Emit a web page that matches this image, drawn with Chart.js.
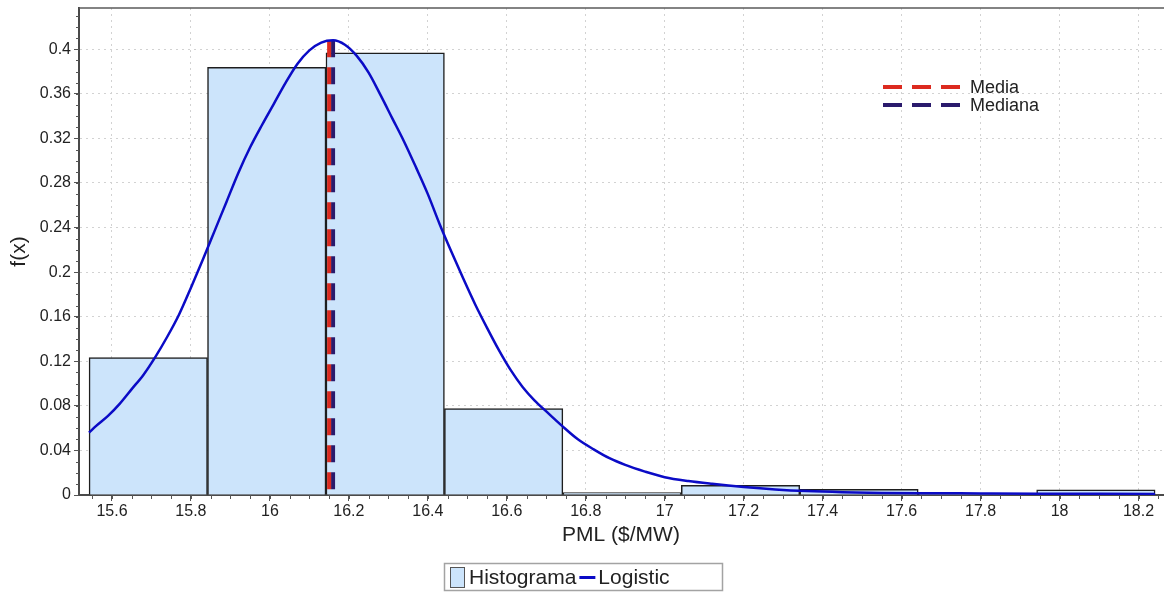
<!DOCTYPE html>
<html>
<head>
<meta charset="utf-8">
<script src="https://cdn.jsdelivr.net/npm/chart.js@4.4.1/dist/chart.umd.min.js"></script>
<style>
  html, body { margin: 0; padding: 0; background: #fff; }
  #wrap { width: 1164px; height: 592px; position: relative; }
</style>
</head>
<body>
<div id="wrap"><canvas id="c" width="1164" height="592"></canvas></div>
<script>
// Histogram: bin edges and relative frequency of each bin
const binEdges = [15.542, 15.842, 16.142, 16.442, 16.742, 17.042, 17.342, 17.642, 17.942, 18.242];
const relFreq  = [0.1234, 0.3838, 0.3968, 0.0775, 0.0022, 0.0087, 0.0050, 0.0015, 0.0047];

// Fitted Logistic density (sampled)
const curveX = [15.542, 15.56, 15.59, 15.62, 15.65, 15.68, 15.71, 15.74, 15.77, 15.80,
                15.83, 15.86, 15.89, 15.92, 15.95, 15.98, 16.01, 16.04, 16.07, 16.10,
                16.13, 16.16, 16.19, 16.22, 16.25, 16.28, 16.31, 16.34, 16.37, 16.40,
                16.43, 16.46, 16.49, 16.52, 16.55, 16.58, 16.61, 16.64, 16.67, 16.70,
                16.74, 16.78, 16.82, 16.86, 16.90, 16.95, 17.00, 17.06, 17.12, 17.20,
                17.28, 17.36, 17.45, 17.55, 17.67, 17.80, 17.95, 18.10, 18.242];
const curveY = [0.056, 0.062, 0.071, 0.082, 0.095, 0.108, 0.124, 0.142, 0.162, 0.186,
                0.211, 0.237, 0.263, 0.289, 0.312, 0.332, 0.351, 0.370, 0.387, 0.399,
                0.406, 0.408, 0.404, 0.394, 0.379, 0.359, 0.338, 0.317, 0.294, 0.270,
                0.243, 0.218, 0.194, 0.171, 0.150, 0.130, 0.112, 0.097, 0.085, 0.075,
                0.062, 0.050, 0.041, 0.033, 0.027, 0.021, 0.016, 0.0125, 0.010, 0.0072,
                0.0050, 0.0035, 0.0025, 0.0019, 0.0016, 0.0014, 0.0012, 0.0011, 0.0010];

// Mean and median of the sample
const meanValue = 16.150;
const medianValue = 16.160;
const markerTop = 0.408;

// Axis ticks and ranges
const xTicks = [15.6, 15.8, 16, 16.2, 16.4, 16.6, 16.8, 17, 17.2, 17.4, 17.6, 17.8, 18, 18.2];
const yTicks = [0, 0.04, 0.08, 0.12, 0.16, 0.2, 0.24, 0.28, 0.32, 0.36, 0.4];
const xRange = [15.5165, 18.262];
const yRange = [0, 0.437];

const FONT = "'Liberation Sans', Arial, Helvetica, sans-serif";
const TEXT = '#222222';
const AXIS = '#4a4a4a';
const GRID = '#d2d2d2';

Chart.defaults.font.family = FONT;
Chart.defaults.color = TEXT;

const fmt = v => String(+Number(v).toFixed(3));

const histData = relFreq.map((v, i) => ({ x: (binEdges[i] + binEdges[i + 1]) / 2, y: v }));
const curveData = curveX.map((x, i) => ({ x, y: curveY[i] }));

// Minor tick marks along both axes + frame line on top
const minorTicks = {
  id: 'minorTicks',
  afterDraw(chart) {
    const { ctx, chartArea } = chart;
    const xs = chart.scales.x, ys = chart.scales.y;
    ctx.save();
    ctx.strokeStyle = '#555';
    ctx.lineWidth = 1;
    // x minor ticks: four subdivisions per major interval
    const xStep = (xTicks[1] - xTicks[0]) / 4;
    for (let v = xTicks[0] - 4 * xStep; v <= xs.max + 1e-9; v += xStep) {
      if (v < xs.min) continue;
      const px = Math.round(xs.getPixelForValue(v)) + 0.5;
      ctx.beginPath();
      ctx.moveTo(px, chartArea.bottom);
      ctx.lineTo(px, chartArea.bottom + 4);
      ctx.stroke();
    }
    // y minor ticks
    const yStep = (yTicks[1] - yTicks[0]) / 4;
    for (let v = 0; v <= ys.max + 1e-9; v += yStep) {
      const py = Math.round(ys.getPixelForValue(v)) + 0.5;
      ctx.beginPath();
      ctx.moveTo(chartArea.left - 3, py);
      ctx.lineTo(chartArea.left, py);
      ctx.stroke();
    }
    // top frame line
    ctx.strokeStyle = '#5a5a5a';
    ctx.lineWidth = 1.5;
    ctx.beginPath();
    ctx.moveTo(chartArea.left, chartArea.top);
    ctx.lineTo(chart.width, chartArea.top);
    ctx.stroke();
    ctx.restore();
  }
};

// Legends: dashed marker legend inside the plot, boxed legend below
const legends = {
  id: 'legends',
  afterDraw(chart) {
    const { ctx } = chart;
    const ds = chart.data.datasets;
    const byLabel = l => ds.find(d => d.label === l);
    ctx.save();

    // marker legend
    const markers = [byLabel('Media'), byLabel('Mediana')];
    const rows = [87, 105];
    markers.forEach((d, i) => {
      ctx.strokeStyle = d.borderColor;
      ctx.lineWidth = 4;
      ctx.setLineDash([19, 10]);
      ctx.beginPath();
      ctx.moveTo(883, rows[i]);
      ctx.lineTo(960, rows[i]);
      ctx.stroke();
      ctx.setLineDash([]);
      ctx.fillStyle = TEXT;
      ctx.font = '18px ' + FONT;
      ctx.textBaseline = 'middle';
      ctx.textAlign = 'left';
      ctx.fillText(d.label, 970, rows[i] + 1);
    });

    // boxed legend
    const hist = byLabel('Histograma');
    const fit = byLabel('Logistic');
    ctx.strokeStyle = '#a3a3a3';
    ctx.lineWidth = 1.5;
    ctx.strokeRect(444.5, 563.5, 278, 27);
    ctx.fillStyle = hist.backgroundColor;
    ctx.fillRect(450.5, 567.5, 14, 20);
    ctx.strokeStyle = '#555';
    ctx.lineWidth = 1;
    ctx.strokeRect(450.5, 567.5, 14, 20);

    ctx.font = '21px ' + FONT;
    ctx.fillStyle = TEXT;
    ctx.textBaseline = 'middle';
    let x = 469;
    ctx.fillText(hist.label, x, 578);
    x += ctx.measureText(hist.label).width + 3;
    ctx.strokeStyle = fit.borderColor;
    ctx.lineWidth = 3;
    ctx.beginPath();
    ctx.moveTo(x, 577.5);
    ctx.lineTo(x + 16, 577.5);
    ctx.stroke();
    x += 19;
    ctx.fillText(fit.label, x, 578);
    ctx.restore();
  }
};

new Chart(document.getElementById('c'), {
  type: 'line',
  data: {
    datasets: [
      {
        type: 'line',
        label: 'Logistic',
        data: curveData,
        borderColor: '#0b0bc6',
        borderWidth: 2.5,
        pointRadius: 0,
        cubicInterpolationMode: 'monotone',
        fill: false,
        order: 0
      },
      {
        type: 'line',
        label: 'Media',
        data: [{ x: meanValue, y: markerTop }, { x: meanValue, y: 0 }],
        borderColor: '#dc2a1f',
        borderWidth: 4,
        borderDash: [17, 10],
        pointRadius: 0,
        fill: false,
        order: 1
      },
      {
        type: 'line',
        label: 'Mediana',
        data: [{ x: medianValue, y: markerTop }, { x: medianValue, y: 0 }],
        borderColor: '#2a1a6c',
        borderWidth: 4,
        borderDash: [17, 10],
        pointRadius: 0,
        fill: false,
        order: 1
      },
      {
        type: 'bar',
        label: 'Histograma',
        xAxisID: 'xBins',
        data: histData,
        backgroundColor: '#cce4fb',
        borderColor: '#1e1e1e',
        borderWidth: 1.5,
        barPercentage: 1,
        categoryPercentage: 1,
        grouped: false,
        order: 2
      }
    ]
  },
  options: {
    responsive: false,
    animation: false,
    devicePixelRatio: 1,
    layout: { padding: { top: 8, right: 1, left: 0, bottom: 0 } },
    plugins: {
      legend: { display: false },
      tooltip: { enabled: false }
    },
    scales: {
      x: {
        type: 'linear',
        min: xRange[0],
        max: xRange[1],
        offset: false,
        afterBuildTicks: s => { s.ticks = xTicks.map(v => ({ value: v })); },
        afterFit: s => { s.height = 97; s.paddingLeft = 0; s.paddingRight = 0; },
        ticks: { font: { size: 16 }, color: TEXT, padding: 1, maxRotation: 0, autoSkip: false, callback: fmt },
        grid: { color: GRID, lineWidth: 1, tickLength: 6, tickColor: '#555', tickWidth: 1, offset: false },
        border: { color: AXIS, width: 2, dash: [2, 4] },
        title: { display: true, text: 'PML ($/MW)', font: { size: 21 }, color: TEXT, padding: { top: 0, bottom: 44 } }
      },
      // bin axis for the histogram: same range, ticks on the bin edges, not drawn
      xBins: {
        type: 'linear',
        display: false,
        position: 'bottom',
        min: xRange[0],
        max: xRange[1],
        offset: false,
        afterBuildTicks: s => { s.ticks = binEdges.map(v => ({ value: v })); }
      },
      y: {
        type: 'linear',
        min: yRange[0],
        max: yRange[1],
        afterBuildTicks: s => { s.ticks = yTicks.map(v => ({ value: v })); },
        afterFit: s => { s.width = 79; s.paddingTop = 0; s.paddingBottom = 0; },
        ticks: { font: { size: 16 }, color: TEXT, padding: 3, autoSkip: false, callback: fmt },
        grid: { color: GRID, lineWidth: 1, tickLength: 5, tickColor: '#555', tickWidth: 1 },
        border: { color: AXIS, width: 2, dash: [2, 4] },
        title: { display: true, text: 'f(x)', font: { size: 21 }, color: TEXT, padding: { top: 7, bottom: 0 } }
      }
    }
  },
  plugins: [minorTicks, legends]
});
</script>
</body>
</html>
